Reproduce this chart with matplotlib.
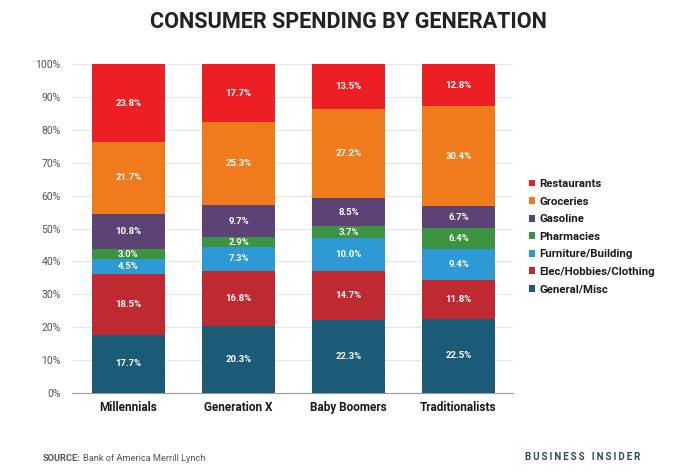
import matplotlib
matplotlib.use("Agg")
import matplotlib.pyplot as plt
from matplotlib.patches import Patch
import numpy as np

plt.rcParams['font.family'] = ['Roboto', 'DejaVu Sans']

generations = ["Millennials", "Generation X", "Baby Boomers", "Traditionalists"]
categories = ["General/Misc", "Elec/Hobbies/Clothing", "Furniture/Building",
              "Pharmacies", "Gasoline", "Groceries", "Restaurants"]
general = [17.7, 20.3, 22.3, 22.5]
elec = [18.5, 16.8, 14.7, 11.8]
furniture = [4.5, 7.3, 10.0, 9.4]
pharmacies = [3.0, 2.9, 3.7, 6.4]
gasoline = [10.8, 9.7, 8.5, 6.7]
groceries = [21.7, 25.3, 27.2, 30.4]
restaurants = [23.8, 17.7, 13.5, 12.8]
yticks = [0, 10, 20, 30, 40, 50, 60, 70, 80, 90, 100]

series = [general, elec, furniture, pharmacies, gasoline, groceries, restaurants]
colors = ["#1B5B77", "#BF2A32", "#2E9AD5", "#3C9341", "#5C4275", "#F07B1C", "#EC1F24"]

W, H = 686, 473
fig = plt.figure(figsize=(W/100, H/100), dpi=100)
ax = fig.add_axes([72/W, 1-393/H, (513-72)/W, (393-64)/H])

x = np.arange(len(generations))
bottom = np.zeros(len(generations))
for vals, col, name in zip(series, colors, categories):
    vals = np.array(vals)
    ax.bar(x, vals, 0.66, bottom=bottom, color=col, label=name, zorder=3)
    for xi, b, v in zip(x, bottom, vals):
        ax.text(xi, b + v/2, f"{v:.1f}%", ha="center", va="center",
                color="white", fontsize=6.8, fontweight="bold", zorder=4)
    bottom += vals

ax.set_xlim(-0.514, 3.495)
ax.set_ylim(0, 100)
ax.set_yticks(yticks)
ax.set_yticklabels([f"{t}%" for t in yticks], color="#555555", fontsize=7.5)
ax.yaxis.grid(True, color="#E6E6E6", linewidth=0.8, zorder=0)
ax.set_xticks(x)
ax.set_xticklabels(generations, fontsize=8.5, fontweight="bold", color="#1a1a1a")
ax.tick_params(axis="both", length=0)
ax.tick_params(axis="y", pad=8)
ax.tick_params(axis="x", pad=6)
for s in ["top", "right", "left"]:
    ax.spines[s].set_visible(False)
ax.spines["bottom"].set_color("#999999")
ax.spines["bottom"].set_linewidth(0.8)

handles = [Patch(facecolor=c, label=n) for c, n in zip(colors, categories)][::-1]
LEG_FS = 8.2
target_first, target_last = 184.0, 289.5


def make_legend(ls, top):
    lg = fig.legend(handles=handles, loc="upper left", bbox_to_anchor=(524/W, 1-top/H),
                    frameon=False, fontsize=LEG_FS, handlelength=0.55, handleheight=0.55,
                    handletextpad=0.4, labelspacing=ls, borderaxespad=0)
    for t in lg.get_texts():
        t.set_fontweight("bold")
        t.set_color("#1a1a1a")
    return lg


ls, top = 0.55, 176.0
for _ in range(4):
    leg = make_legend(ls, top)
    fig.canvas.draw()
    texts = leg.get_texts()
    b0 = texts[0].get_window_extent()
    b1 = texts[-1].get_window_extent()
    y0 = H - (b0.y0 + b0.y1) / 2
    y1 = H - (b1.y0 + b1.y1) / 2
    spacing = (y1 - y0) / 6
    target_sp = (target_last - target_first) / 6
    ls += (target_sp - spacing) / (LEG_FS * 100 / 72)
    top += target_first - y0
    leg.remove()
leg = make_legend(ls, top)

fig.text(348/W, 1-22/H, "CONSUMER SPENDING BY GENERATION", ha="center", va="center",
         fontsize=15.6, fontweight="bold", color="#222222")

t1 = fig.text(43/W, 1-458/H, "SOURCE:", ha="left", va="center",
              fontsize=6.7, fontweight="bold", color="#555555")
fig.canvas.draw()
bb = t1.get_window_extent()
fig.text((bb.x1 + 2)/W, 1-458/H, "Bank of America Merrill Lynch", ha="left", va="center",
         fontsize=6.7, color="#555555")
brand = "   ".join("\u2009".join(w) for w in "BUSINESS INSIDER".split())
fig.text(525/W, 1-457/H, brand,
         ha="left", va="center", fontsize=7.0, fontweight="bold", color="#2E4B5A")

fig.savefig("out.png", dpi=100)
